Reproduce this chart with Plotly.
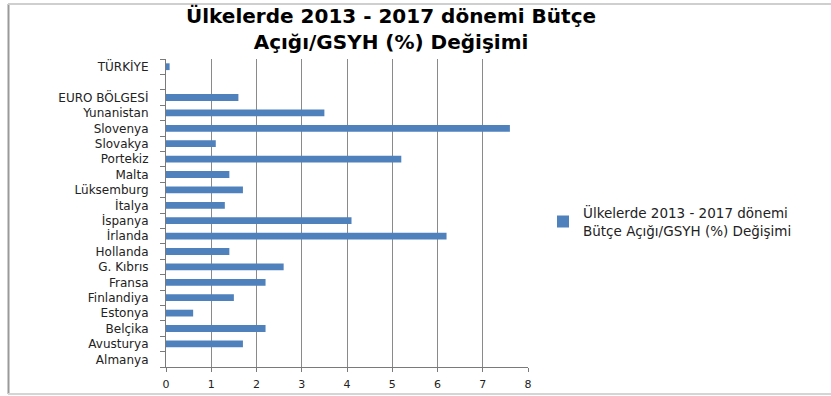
import plotly.graph_objects as go

# Data (top-to-bottom as shown in the chart)
countries = ["TÜRKİYE", " ", "EURO BÖLGESİ", "Yunanistan", "Slovenya", "Slovakya",
             "Portekiz", "Malta", "Lüksemburg", "İtalya", "İspanya", "İrlanda",
             "Hollanda", "G. Kıbrıs", "Fransa", "Finlandiya", "Estonya", "Belçika",
             "Avusturya", "Almanya"]
values = [0.08, None, 1.6, 3.5, 7.6, 1.1, 5.2, 1.4, 1.7, 1.3, 4.1, 6.2,
          1.4, 2.6, 2.2, 1.5, 0.6, 2.2, 1.7, 0.0]
series_name = "Ülkelerde 2013 - 2017 dönemi<br>Bütçe Açığı/GSYH (%) Değişimi"
title_text = "Ülkelerde 2013 - 2017 dönemi Bütçe<br>Açığı/GSYH (%) Değişimi"
x_ticks = [0, 1, 2, 3, 4, 5, 6, 7, 8]

W, H = 831, 396
L, R, T, B = 166, 303, 59, 29
pw, ph = W - L - R, H - T - B

def px(x):
    return (x - L) / pw

def py(y):
    return (H - B - y) / ph

fig = go.Figure()
fig.add_trace(go.Bar(
    y=countries[::-1], x=values[::-1], orientation="h",
    marker=dict(color="#4F81BD", line=dict(width=0)),
    name=series_name, showlegend=True,
))

fig.update_layout(
    width=W, height=H,
    margin=dict(l=L, r=R, t=T, b=B, autoexpand=False),
    paper_bgcolor="white", plot_bgcolor="white",
    bargap=0.56,
    legend=dict(x=px(543), y=py(222), xanchor="left", yanchor="middle",
                font=dict(family="DejaVu Sans", size=13.5, color="#222"),
                bgcolor="rgba(0,0,0,0)", itemwidth=30),
    font=dict(family="DejaVu Sans", size=10, color="#222"),
    showlegend=True,
)

fig.add_annotation(text=title_text, xref="paper", yref="paper",
                   x=px(391), y=py(28.5), xanchor="center", yanchor="middle",
                   showarrow=False, align="center",
                   font=dict(family="DejaVu Sans", size=20, color="black", weight="bold"))

fig.update_xaxes(
    range=[0, 8], tickvals=x_ticks, ticktext=[str(v) for v in x_ticks],
    showgrid=True, gridcolor="#8a8a8a", gridwidth=1.2,
    showline=True, linecolor="#7a7a7a", linewidth=1.2,
    ticks="outside", ticklen=4, tickcolor="#7a7a7a",
    ticklabelstandoff=3, automargin=False,
    tickfont=dict(family="DejaVu Sans", size=11, color="#222"),
    zeroline=False, fixedrange=True,
)
fig.update_yaxes(
    type="category", categoryorder="array", categoryarray=countries[::-1],
    tickmode="array", tickvals=countries[::-1], ticktext=countries[::-1],
    range=[-0.5, len(countries) - 0.5],
    showline=True, linecolor="#7a7a7a", linewidth=1.2,
    ticks="outside", ticklen=5, tickcolor="#7a7a7a", tickson="boundaries",
    ticklabelstandoff=14, automargin=False,
    tickfont=dict(family="DejaVu Sans", size=12, color="#222"),
    showgrid=False, zeroline=False, fixedrange=True,
)

# chart frame lines
fig.add_shape(type="line", xref="paper", yref="paper",
              x0=px(8.5), x1=px(8.5), y0=py(4), y1=py(394),
              line=dict(color="#9a9a9a", width=2))
fig.add_shape(type="line", xref="paper", yref="paper",
              x0=px(8), x1=px(831), y0=py(4), y1=py(4),
              line=dict(color="#cfcfcf", width=2))
fig.add_shape(type="line", xref="paper", yref="paper",
              x0=px(8), x1=px(831), y0=py(394), y1=py(394),
              line=dict(color="#d5d5d5", width=2))

fig.write_html("out.html", config={"displayModeBar": False},
               post_script="document.body.style.margin='0';")
